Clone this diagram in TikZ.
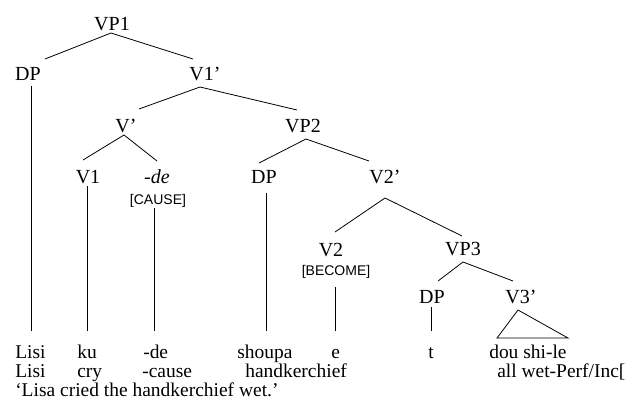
\documentclass[tikz,border=0pt]{standalone}
\usepackage{fontspec}
\setmainfont{Liberation Serif}
\newfontfamily\brkfont{Liberation Sans}
\usetikzlibrary{calc}
\begin{document}
\begin{tikzpicture}[x=0.75pt,y=-0.75pt,
  lab/.style={font=\fontsize{15}{18}\selectfont, inner sep=0pt, anchor=base},
  brk/.style={font=\brkfont\fontsize{10.5}{12}\selectfont, inner sep=0pt, anchor=base},
  wrd/.style={font=\fontsize{14.6}{17}\selectfont, inner sep=0pt, anchor=base west},
  br/.style={line width=0.6pt, black}]
\useasboundingbox (0,0) rectangle (641,414);
% labels
\node[lab] (VP1) at (112,30) {VP1};
\node[lab] (DP1) at (28,80) {DP};
\node[lab] (V1p) at (205,80) {V1'};
\node[lab] (Vp) at (126,132) {V'};
\node[lab] (VP2) at (303,132) {VP2};
\node[lab] (V1) at (88,183) {V1};
\node[lab] (de) at (157,183) {\itshape -de};
\node[brk] (cause) at (158,204) {[CAUSE]};
\node[lab] (DP2) at (264,183) {DP};
\node[lab] (V2p) at (385,183) {V2'};
\node[lab] (V2) at (331,256) {V2};
\node[brk] (become) at (336,275) {[BECOME]};
\node[lab] (VP3) at (463,255) {VP3};
\node[lab] (DP3) at (432,303) {DP};
\node[lab] (V3p) at (521,303) {V3'};
% words
\node[wrd] (w1) at (15,358) {Lisi};
\node[wrd] (w2) at (77,358) {ku};
\node[wrd] (w3) at (143,358) {-de};
\node[wrd] (w4) at (237,358) {shoupa};
\node[wrd] (w5) at (331,358) {e};
\node[wrd] (w6) at (428,358) {t};
\node[wrd] (dou) at (489,358) {dou shi-le};
\node[wrd] (g1) at (15,377) {Lisi};
\node[wrd] (g2) at (77,377) {cry};
\node[wrd] (g3) at (142,377) {-cause};
\node[wrd] (g4) at (245,377) {handkerchief};
\node[wrd] (g5) at (497,377) {all wet-Perf/Inc[};
\node[wrd] (tr) at (15,396) {`Lisa cried the handkerchief wet.'};
% branches
\draw[br] ($(VP1.base)+(-1,3)$) -- ($(DP1.base)+(17,-21)$);
\draw[br] ($(VP1.base)+(-1,3)$) -- ($(V1p.base)+(-12,-21)$);
\draw[br] ($(V1p.base)+(-5,7)$) -- ($(Vp.base)+(13,-23)$);
\draw[br] ($(V1p.base)+(-5,7)$) -- ($(VP2.base)+(-6,-22)$);
\draw[br] ($(Vp.base)+(-2,3)$) -- ($(V1.base)+(-5,-23)$);
\draw[br] ($(Vp.base)+(-2,3)$) -- ($(de.base)+(0,-22)$);
\draw[br] ($(VP2.base)+(3,7)$) -- ($(DP2.base)+(-5,-20)$);
\draw[br] ($(VP2.base)+(3,7)$) -- ($(V2p.base)+(-16,-22)$);
\draw[br] ($(V2p.base)+(0,15)$) -- ($(V2.base)+(4,-24)$);
\draw[br] ($(V2p.base)+(0,15)$) -- ($(VP3.base)+(-1,-19)$);
\draw[br] ($(VP3.base)+(0,7)$) -- ($(DP3.base)+(6,-22)$);
\draw[br] ($(VP3.base)+(0,7)$) -- ($(V3p.base)+(-8,-22)$);
% vertical lines to the words
\coordinate (bot) at (0,331);
\draw[br] ($(DP1.base)+(3,6)$) coordinate (s1) -- (s1 |- bot);
\draw[br] ($(V1.base)+(-1,3)$) coordinate (s2) -- (s2 |- bot);
\draw[br] ($(cause.base)+(-4,4)$) coordinate (s3) -- (s3 |- bot);
\draw[br] ($(DP2.base)+(2,10)$) coordinate (s4) -- (s4 |- bot);
\draw[br] ($(become.base)+(-1,12)$) coordinate (s5) -- (s5 |- bot);
\draw[br] ($(DP3.base)+(-1,4)$) coordinate (s6) -- (s6 |- bot);
% triangle
\draw[br] ($(V3p.base)+(-3,7)$) -- ($(dou.base west)+(8,-20)$) -- ($(dou.base west)+(79,-20)$) -- cycle;
\end{tikzpicture}
\end{document}
